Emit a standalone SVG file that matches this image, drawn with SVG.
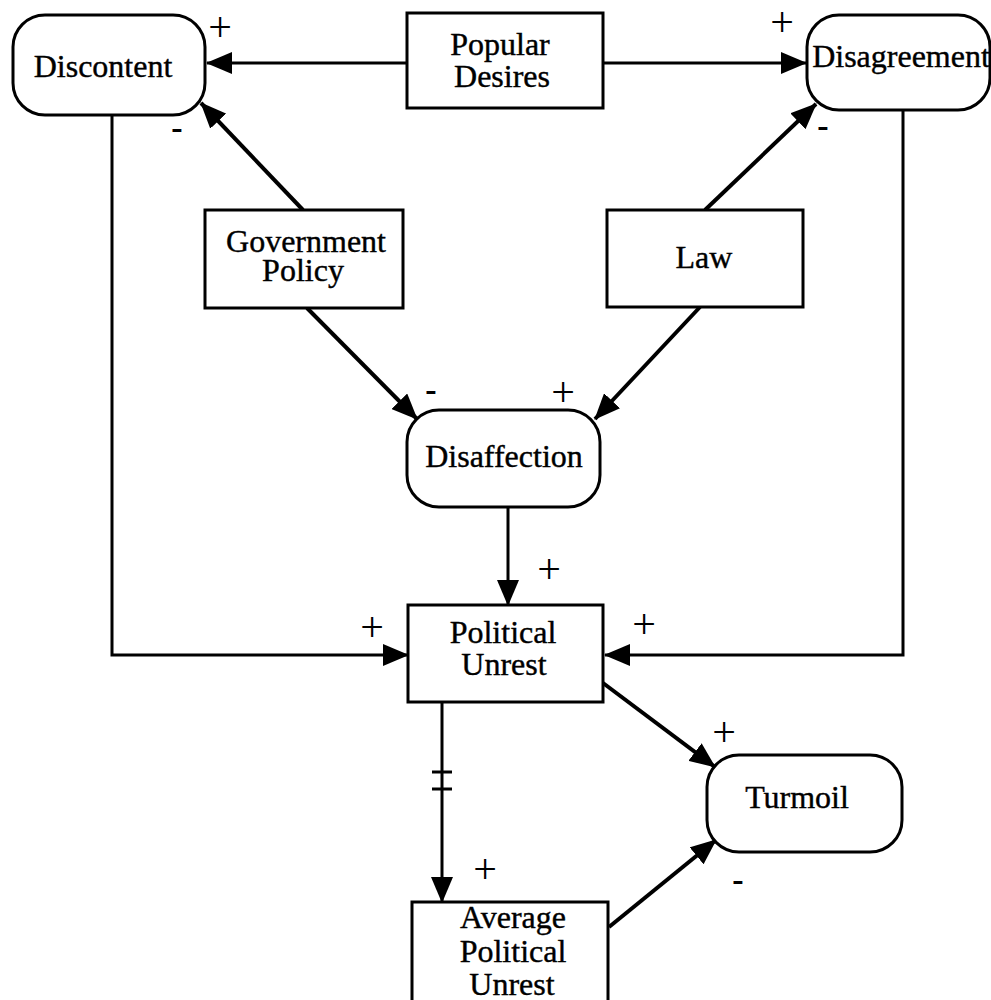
<svg xmlns="http://www.w3.org/2000/svg" width="991" height="1000" viewBox="0 0 991 1000">
  <style>
    .box { fill: #ffffff; stroke: #000000; stroke-width: 3; }
    .lbl { font-family: "Liberation Serif", "Times New Roman", serif; font-size: 32px; fill: #000000; stroke: #000000; stroke-width: 0.4; text-anchor: middle; }
    .plus { font-family: "Liberation Serif", "Times New Roman", serif; font-size: 42px; fill: #000000; text-anchor: middle; }
    .minus { font-family: "Liberation Serif", "Times New Roman", serif; font-size: 34px; font-weight: bold; fill: #000000; text-anchor: middle; }
    .link { fill: none; stroke: #000000; stroke-width: 3; marker-end: url(#arrow); }
    .diag { stroke-width: 4; }
    .tick { stroke: #000000; stroke-width: 3; }
  </style>
  <defs>
    <marker id="arrow" markerUnits="userSpaceOnUse" markerWidth="26" markerHeight="22" refX="25" refY="11" orient="auto">
      <path d="M0,0 L26,11 L0,22 Z" fill="#000000"/>
    </marker>
  </defs>
  <rect width="991" height="1000" fill="#ffffff"/>

  <!-- connectors -->
  <g id="connectors">
    <line class="link" x1="407" y1="63" x2="207" y2="63"/>
    <line class="link" x1="603" y1="63" x2="806" y2="63"/>
    <line class="link diag" x1="303" y1="210" x2="201" y2="103"/>
    <line class="link diag" x1="705" y1="210" x2="816" y2="104"/>
    <line class="link diag" x1="307" y1="308" x2="417" y2="419"/>
    <line class="link diag" x1="700" y1="307" x2="595" y2="419"/>
    <line class="link" x1="508" y1="507" x2="508" y2="605"/>
    <polyline class="link" points="112,115 112,655 408,655"/>
    <polyline class="link" points="903,110 903,655 605,655"/>
    <line class="link diag" x1="603" y1="683" x2="715" y2="767"/>
    <line class="link" x1="442" y1="702" x2="442" y2="902"/>
    <line class="tick" x1="432" y1="772" x2="452" y2="772"/>
    <line class="tick" x1="432" y1="789" x2="452" y2="789"/>
    <line class="link diag" x1="609" y1="927" x2="716" y2="840"/>
  </g>

  <!-- polarity signs -->
  <g id="signs">
    <text class="plus" x="220" y="41">+</text>
    <text class="minus" x="177" y="139">-</text>
    <text class="plus" x="782" y="36">+</text>
    <text class="minus" x="823" y="137">-</text>
    <text class="minus" x="431" y="401">-</text>
    <text class="plus" x="563" y="406">+</text>
    <text class="plus" x="549" y="583">+</text>
    <text class="plus" x="372" y="641">+</text>
    <text class="plus" x="644" y="638">+</text>
    <text class="plus" x="724" y="746">+</text>
    <text class="plus" x="485" y="883">+</text>
    <text class="minus" x="738" y="891">-</text>
  </g>

  <g id="discontent">
    <rect class="box" x="13" y="15" width="192" height="100" rx="32" ry="32"/>
    <text class="lbl" x="103" y="77">Discontent</text>
  </g>
  <g id="popular-desires">
    <rect class="box" x="407" y="13" width="196" height="95"/>
    <text class="lbl" x="500" y="55">Popular</text>
    <text class="lbl" x="502" y="87">Desires</text>
  </g>
  <g id="disagreement">
    <rect class="box" x="807" y="15" width="183" height="95" rx="32" ry="32"/>
    <text class="lbl" x="901" y="67">Disagreement</text>
  </g>
  <g id="government-policy">
    <rect class="box" x="205" y="210" width="198" height="98"/>
    <text class="lbl" x="306" y="252">Government</text>
    <text class="lbl" x="303" y="281">Policy</text>
  </g>
  <g id="law">
    <rect class="box" x="607" y="210" width="196" height="97"/>
    <text class="lbl" x="704" y="268">Law</text>
  </g>
  <g id="disaffection">
    <rect class="box" x="407" y="410" width="193" height="97" rx="32" ry="32"/>
    <text class="lbl" x="504" y="467">Disaffection</text>
  </g>
  <g id="political-unrest">
    <rect class="box" x="408" y="605" width="195" height="97"/>
    <text class="lbl" x="503" y="643">Political</text>
    <text class="lbl" x="504" y="675">Unrest</text>
  </g>
  <g id="turmoil">
    <rect class="box" x="707" y="755" width="195" height="97" rx="32" ry="32"/>
    <text class="lbl" x="797" y="808">Turmoil</text>
  </g>
  <g id="average-political-unrest">
    <rect class="box" x="412" y="902" width="196" height="110"/>
    <text class="lbl" x="513" y="928">Average</text>
    <text class="lbl" x="513" y="962">Political</text>
    <text class="lbl" x="512" y="995">Unrest</text>
  </g>
</svg>
